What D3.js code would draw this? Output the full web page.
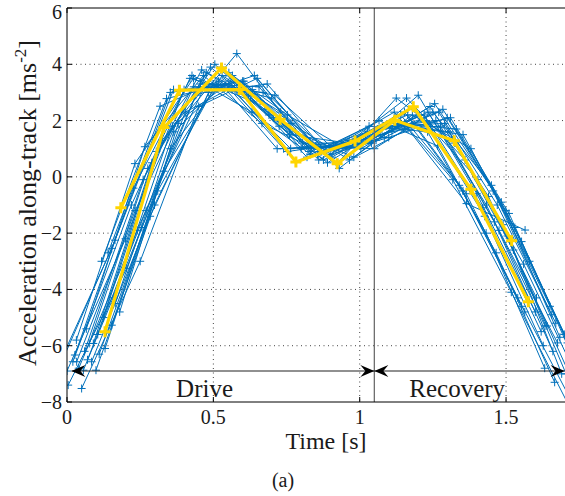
<!DOCTYPE html>
<html><head><meta charset="utf-8">
<script src="https://cdn.jsdelivr.net/npm/d3@7"></script>
<style>
body{margin:0;background:#fff}
svg{display:block}
text{font-family:"Liberation Serif","Times New Roman",serif;fill:#1a1a1a}
</style>
</head><body>
<svg id="c" width="565" height="496"></svg>
<script>
// ---- data ----
const samplePeriod = 0.2;
const blueStarts = [-0.047,-0.036,0.000,0.004,0.020,0.027,0.032,0.033,0.040,0.050,0.056,0.060,0.066,0.070,
  0.076,0.084,0.090,0.099,0.105,0.110,0.118,0.125,0.130,0.140,0.153,0.160,0.165,0.180];
const blueValues = [
  [-7.1,-2.54,3.0,3.3,0.9,1.2,2.3,-0.5,-4.6],
  [-7.0,-2.25,3.1,3.1,1.0,1.3,2.2,-0.6,-4.8],
  [-6.9,-2.2,3.1,3.4,1.0,1.1,2.9,-0.6,-4.8],
  [-7.4,-3.25,2.3,3.4,1.2,1.0,2.2,-0.1,-4.3],
  [-6.57,-1.0,3.5,2.9,0.7,1.5,2.2,-1.1,-5.5],
  [-6.33,-0.4,3.6,2.7,0.9,1.6,2.0,-1.4,-6.0],
  [-5.8,0.47,3.5,2.3,0.8,1.8,1.6,-2.0,-6.8],
  [-6.57,-1.2,3.2,3.1,1.0,1.3,2.3,-1.0,-5.3],
  [-6.8,-1.9,2.9,3.6,1.2,1.2,2.5,-0.7,-5.3],
  [-7.52,-3.0,2.5,3.5,1.1,1.0,2.3,-0.3,-4.6],
  [-6.87,-1.8,3.3,3.2,0.8,1.3,2.6,-0.5,-4.9],
  [-6.2,-0.1,3.8,2.7,0.6,1.7,2.0,-1.6,-6.2],
  [-5.4,1.07,3.6,1.9,0.9,2.0,1.1,-2.7,-7.3],
  [-6.5,-1.2,3.2,3.0,0.9,1.5,2.3,-1.0,-5.2],
  [-5.92,0.3,3.7,2.4,0.6,1.7,1.8,-1.9,-5.9],
  [-6.57,-1.4,3.0,3.3,0.9,1.4,2.4,-0.9,-5.7],
  [-5.92,0.5,3.9,2.2,0.5,1.8,1.9,-1.7,-7.0],
  [-6.87,-1.0,3.3,2.8,0.8,1.4,2.1,-1.2,-5.6],
  [-5.6,0.9,4.0,2.1,0.7,1.9,1.6,-2.1,-7.0],
  [-6.3,-0.5,3.3,2.9,1.0,1.6,2.1,-1.3,-5.9],
  [-3.0,2.51,3.4,1.0,1.1,2.3,-0.1,-4.1,-8.2],
  [-5.0,1.3,3.9,1.8,0.5,2.8,1.2,-2.6,-7.2],
  [-6.1,0.2,3.6,2.3,0.3,1.9,1.7,-1.8,-6.3],
  [-2.7,2.78,3.3,1.0,1.1,2.2,-0.3,-4.3,-8.3],
  [-5.27,1.0,3.7,2.2,1.0,1.8,1.5,-2.3,-7.0],
  [-4.3,1.8,3.4,1.5,1.2,2.8,0.6,-3.1,-7.5],
  [-4.5,1.6,3.6,1.9,0.6,1.7,-0.95,-1.89],
  [-4.8,1.9,4.38,1.6,0.7,2.2,1.0,-3.0,-7.3]
];
const yellowTimesA  = [0.130,0.331,0.528,0.728,0.923,1.120,1.323,1.519];
const yellowValuesA = [-5.5,1.75,3.87,2.05,0.47,2.01,1.28,-2.27];
const yellowTimesB  = [0.184,0.384,0.589,0.782,0.984,1.183,1.380,1.576];
const yellowValuesB = [-1.10,3.08,3.10,0.53,1.27,2.49,-0.44,-4.44];

const xTicks = [0,0.5,1,1.5];
const xTickLabels = ["0","0.5","1","1.5"];
const yTicks = [-8,-6,-4,-2,0,2,4,6];
const yTickLabels = ["\u22128","\u22126","\u22124","\u22122","0","2","4","6"];
const phaseBoundary = 1.05;
const arrowLevel = -6.9;
const arrowStart = 0.015;
const phaseNames = ["Drive","Recovery"];
const phaseLabelTimes = [0.47,1.333];

// ---- layout ----
const L = 67, T = 8, R = 564.6, B = 402;
const x = d3.scaleLinear().domain([0,1.7]).range([L,R]);
const y = d3.scaleLinear().domain([-8,6]).range([B,T]);
const svg = d3.select("#c");
const blue = "#0070BB", gold = "#FFD500";

svg.append("defs").append("clipPath").attr("id","clip")
  .append("rect").attr("x",L).attr("y",T).attr("width",565-L).attr("height",B-T);

// grid
const grid = svg.append("g").attr("stroke","#444").attr("stroke-width",1).attr("stroke-dasharray","1,3.5");
grid.selectAll(".gx").data(xTicks.filter(v=>v>0)).join("line")
  .attr("x1",d=>x(d)).attr("x2",d=>x(d)).attr("y1",T).attr("y2",B);
grid.selectAll(".gy").data(yTicks.filter(v=>v>-8 && v<6)).join("line")
  .attr("x1",L).attr("x2",565).attr("y1",d=>y(d)).attr("y2",d=>y(d));

const plot = svg.append("g").attr("clip-path","url(#clip)");
const line = d3.line().x(d=>x(d[0])).y(d=>y(d[1]));

function plus(g, pts, size, color, w){
  g.selectAll(null).data(pts).join("path")
    .attr("d",d=>{const cx=x(d[0]), cy=y(d[1]);
      return `M${cx-size},${cy}H${cx+size}M${cx},${cy-size}V${cy+size}`;})
    .attr("stroke",color).attr("stroke-width",w).attr("fill","none");
}

blueValues.forEach((vals,i)=>{
  const pts = vals.map((v,k)=>[blueStarts[i]+k*samplePeriod, v]);
  const g = plot.append("g");
  g.append("path").datum(pts).attr("d",line).attr("fill","none")
    .attr("stroke",blue).attr("stroke-width",1);
  plus(g, pts, 4, blue, 1);
});

[[yellowTimesA,yellowValuesA],[yellowTimesB,yellowValuesB]].forEach(([ts,vs])=>{
  const pts = ts.map((t,k)=>[t,vs[k]]);
  const g = plot.append("g");
  g.append("path").datum(pts).attr("d",line).attr("fill","none")
    .attr("stroke",gold).attr("stroke-width",3.2).attr("stroke-linejoin","round");
  plus(g, pts, 5.5, gold, 3);
});

// phase boundary
svg.append("line").attr("x1",x(phaseBoundary)).attr("x2",x(phaseBoundary))
  .attr("y1",T).attr("y2",B).attr("stroke","#6e6e6e").attr("stroke-width",1.3);

// arrows
const ay = y(arrowLevel);
svg.append("line").attr("x1",x(arrowStart)).attr("x2",x(1.7)).attr("y1",ay).attr("y2",ay)
  .attr("stroke","#222").attr("stroke-width",1.1);
function arrow(xt, dir){
  svg.append("path").attr("d",
    `M${xt},${ay}L${xt-dir*14},${ay-6}L${xt-dir*9},${ay}L${xt-dir*14},${ay+6}Z`)
    .attr("fill","#000");
}
arrow(x(arrowStart),-1);
arrow(x(phaseBoundary),1);
arrow(x(phaseBoundary),-1);
arrow(x(1.7),1);

phaseNames.forEach((n,i)=>{
  svg.append("text").attr("x",x(phaseLabelTimes[i])).attr("y",397)
    .attr("text-anchor","middle").attr("font-size",25).text(n);
});

// frame
svg.append("path").attr("d",`M${565},${T}H${L}V${B}H${565}`)
  .attr("fill","none").attr("stroke","#000").attr("stroke-width",1);
// ticks
const tk = svg.append("g").attr("stroke","#000").attr("stroke-width",1);
xTicks.forEach(v=>{
  tk.append("line").attr("x1",x(v)).attr("x2",x(v)).attr("y1",B).attr("y2",B-5);
  tk.append("line").attr("x1",x(v)).attr("x2",x(v)).attr("y1",T).attr("y2",T+5);
});
yTicks.forEach(v=>{
  tk.append("line").attr("x1",L).attr("x2",L+5).attr("y1",y(v)).attr("y2",y(v));
});

// tick labels
xTicks.forEach((v,i)=>{
  svg.append("text").attr("x",x(v)).attr("y",424).attr("text-anchor","middle")
    .attr("font-size",20).text(xTickLabels[i]);
});
yTicks.forEach((v,i)=>{
  svg.append("text").attr("x",62).attr("y",Math.max(y(v)+7,19)).attr("text-anchor","end")
    .attr("font-size",20).text(yTickLabels[i]);
});

// axis labels
svg.append("text").attr("x",326).attr("y",449).attr("text-anchor","middle")
  .attr("font-size",24).text("Time [s]");
const yl = svg.append("text").attr("transform","translate(36,203) rotate(-90)")
  .attr("text-anchor","middle").attr("font-size",26);
yl.append("tspan").text("Acceleration along-track [ms");
yl.append("tspan").attr("font-size",17).attr("dy",-10).text("-2");
yl.append("tspan").attr("dy",10).text("]");

svg.append("text").attr("x",283).attr("y",487).attr("text-anchor","middle")
  .attr("font-size",20).text("(a)");
</script>
</body></html>
